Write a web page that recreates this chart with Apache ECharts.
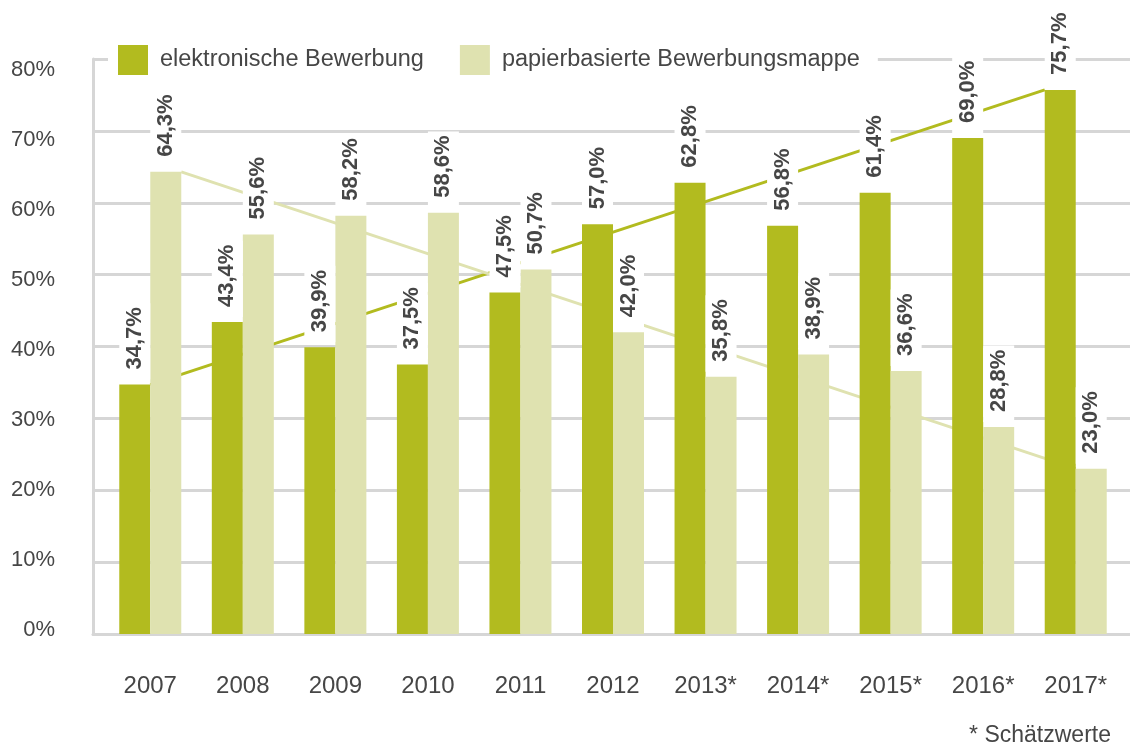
<!DOCTYPE html>
<html>
<head>
<meta charset="utf-8">
<script src="https://cdn.jsdelivr.net/npm/echarts@6/dist/echarts.min.js"></script>
<style>
  html, body { margin: 0; padding: 0; background: #fff; }
  #chart { width: 1130px; height: 747px; }
</style>
</head>
<body>
<div id="chart"></div>
<script>
var years = ['2007', '2008', '2009', '2010', '2011', '2012', '2013*', '2014*', '2015*', '2016*', '2017*'];
var elektronisch = [34.7, 43.4, 39.9, 37.5, 47.5, 57.0, 62.8, 56.8, 61.4, 69.0, 75.7];
var papier = [64.3, 55.6, 58.2, 58.6, 50.7, 42.0, 35.8, 38.9, 36.6, 28.8, 23.0];
var yMin = 0, yMax = 80, yStep = 10;

;(function () {

    'use strict';

    var GREEN = '#b2bb1f';
    var LIGHT = '#dfe2b0';
    var TEXT = '#464646';
    var GRIDLINE = '#d6d6d6';
    var FONT = '"Liberation Sans", Arial, sans-serif';

    var gridLeft = 104, gridRight = 8;
    var barWidth = 31;
    var catWidth = (1130 - gridLeft - gridRight) / years.length;
    var off = barWidth / catWidth;
    var last = years.length - 1;

    var fmt = function (v) {
        return v.toFixed(1).replace('.', ',') + '%';
    };

    var barLabel = {
        show: true,
        position: 'top',
        distance: 5,
        rotate: 90,
        align: 'left',
        verticalAlign: 'middle',
        fontFamily: FONT,
        fontWeight: 'bold',
        fontSize: 22,
        lineHeight: 22,
        color: TEXT,
        backgroundColor: '#fff',
        padding: [5, 4, 4, 10],
        formatter: function (p) { return fmt(p.value); }
    };

    var chart = echarts.init(document.getElementById('chart'));

    var option = {
        animation: false,
        backgroundColor: '#fff',
        textStyle: { fontFamily: FONT },
        legend: {
            left: 108,
            top: 40,
            padding: [5, 18, 5, 10],
            backgroundColor: '#fff',
            itemWidth: 30,
            itemHeight: 30,
            itemGap: 36,
            icon: 'rect',
            z: 10,
            textStyle: { fontSize: 23.5, color: TEXT, fontFamily: FONT, padding: [0, 0, 0, 7] },
            data: ['elektronische Bewerbung', 'papierbasierte Bewerbungsmappe']
        },
        grid: [
            { left: gridLeft, right: gridRight, top: 59, bottom: 113 },
            { left: 93, right: 0, top: 59, bottom: 113 }
        ],
        xAxis: [
            {
                type: 'category',
                gridIndex: 0,
                data: years,
                axisLine: { show: false },
                axisTick: { show: false },
                axisLabel: { fontSize: 24, color: TEXT, margin: 40, fontFamily: FONT }
            },
            {
                type: 'value',
                gridIndex: 0,
                min: -0.5,
                max: last + 0.5,
                show: false
            },
            {
                type: 'value',
                gridIndex: 1,
                min: 0,
                max: 1,
                axisLine: { show: true, onZero: false, lineStyle: { color: GRIDLINE, width: 3 } },
                axisTick: { show: false },
                axisLabel: { show: false },
                splitLine: { show: false }
            }
        ],
        yAxis: [
            {
                type: 'value',
                gridIndex: 0,
                min: yMin,
                max: yMax,
                interval: yStep,
                show: false
            },
            {
                // axis line and gridlines
                type: 'value',
                gridIndex: 1,
                position: 'left',
                offset: 0,
                min: yMin,
                max: yMax,
                interval: yStep,
                axisLine: { show: true, lineStyle: { color: GRIDLINE, width: 3 } },
                axisTick: { show: false },
                splitLine: { lineStyle: { color: GRIDLINE, width: 3 } },
                axisLabel: { show: false }
            },
            {
                // tick labels, set slightly tighter than the gridlines as in the original
                type: 'value',
                gridIndex: 1,
                position: 'left',
                offset: 0,
                min: -0.65,
                max: 81.5,
                splitNumber: 8,
                axisLine: { show: false },
                axisTick: { show: false },
                splitLine: { show: false },
                axisLabel: {
                    fontSize: 22,
                    color: TEXT,
                    margin: 38,
                    fontFamily: FONT,
                    showMinLabel: false,
                    showMaxLabel: false,
                    formatter: function (v) {
                        return (v % yStep === 0) ? v + '%' : '';
                    }
                }
            }
        ],
        series: [
            {
                name: 'elektronische Bewerbung',
                type: 'bar',
                xAxisIndex: 0,
                yAxisIndex: 0,
                barWidth: barWidth,
                barGap: '0%',
                z: 3,
                itemStyle: { color: GREEN },
                label: barLabel,
                data: elektronisch
            },
            {
                name: 'papierbasierte Bewerbungsmappe',
                type: 'bar',
                xAxisIndex: 0,
                yAxisIndex: 0,
                barWidth: barWidth,
                barGap: '0%',
                z: 3,
                itemStyle: { color: LIGHT },
                label: barLabel,
                data: papier
            },
            // trend lines from first to last year
            {
                type: 'line',
                xAxisIndex: 1,
                yAxisIndex: 0,
                z: 2,
                symbol: 'none',
                silent: true,
                lineStyle: { color: GREEN, width: 3 },
                data: [[0, elektronisch[0]], [last - off, elektronisch[last]]]
            },
            {
                type: 'line',
                xAxisIndex: 1,
                yAxisIndex: 0,
                z: 2,
                symbol: 'none',
                silent: true,
                lineStyle: { color: LIGHT, width: 3 },
                data: [[off, papier[0]], [last, papier[last]]]
            }
        ],
        graphic: [
            {
                type: 'text',
                right: 19,
                top: 724,
                style: { text: '* Schätzwerte', fontSize: 23, fill: TEXT, fontFamily: FONT }
            }
        ]
    };

    chart.setOption(option);

}());
</script>
</body>
</html>
